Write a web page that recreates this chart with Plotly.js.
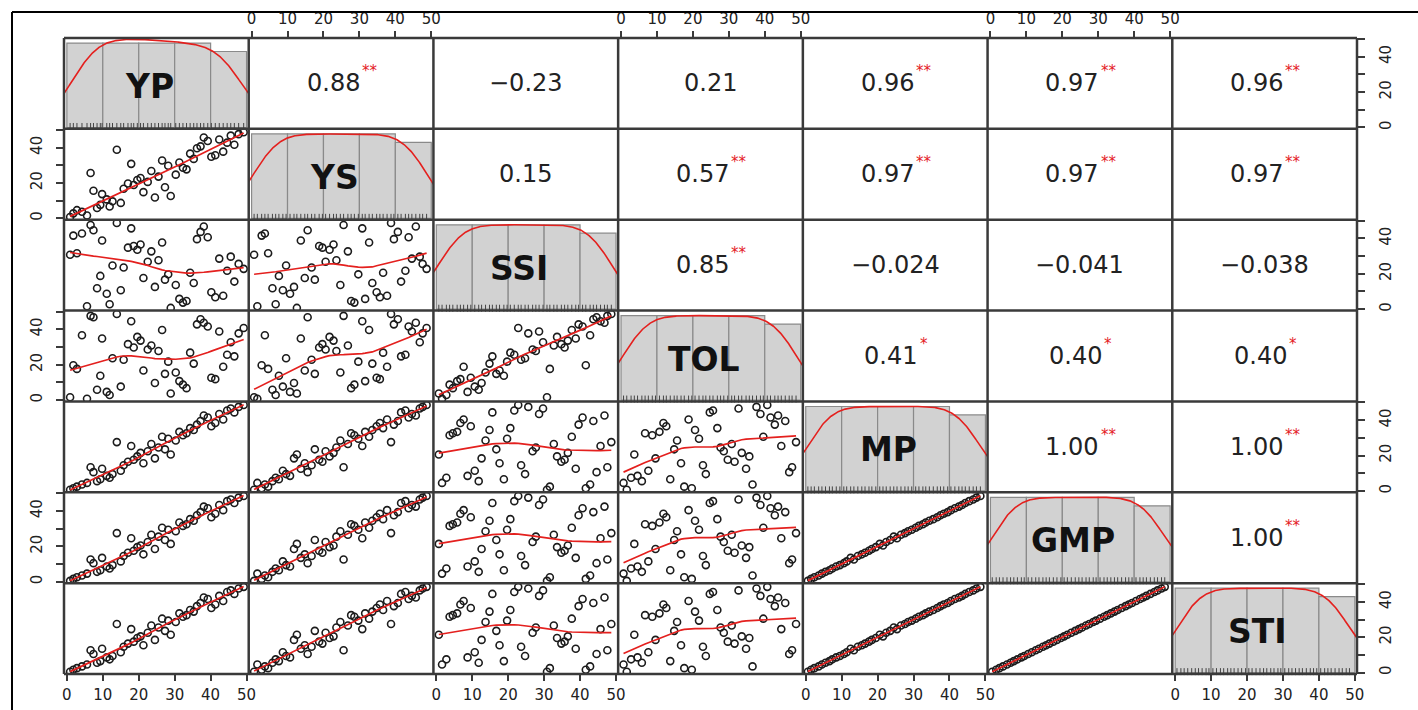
<!DOCTYPE html>
<html>
<head>
<meta charset="utf-8">
<script src="https://cdn.plot.ly/plotly-3.0.1.min.js"></script>
<style>html,body{margin:0;padding:0;background:#fff;}#chart{width:1418px;height:710px;}</style>
</head>
<body>
<div id="chart"></div>
<script>
// ---- data: 49 genotypes (rank-scale values) ----
const varNames = ['YP','YS','SSI','TOL','MP','GMP','STI'];
const YP  = [0.9,1.8,2.8,4.2,5.6,6.6,7.4,8.4,9.3,9.8, 11.1,11.9,12.7,13.9,15.0,15.8,17.0,17.9,18.6,19.6, 20.5,21.3,22.5,23.5,24.5,25.5,26.5,27.3,28.2,28.9, 30.3,31.3,32.3,33.3,34.3,35.3,36.2,37.2,38.1,39.2, 40.2,41.3,42.4,43.5,44.6,45.6,46.6,47.8,49.2];
const YS  = [0.7,2.8,4.6,3.7,1.6,25.6,15.6,5.8,7.6,13.7, 10.7,6.7,9.6,38.8,8.7,16.7,19.7,30.8,18.8,21.7, 22.8,14.8,20.6,26.8,11.8,23.6,32.7,17.6,29.7,12.6, 24.7,31.6,28.6,27.7,36.6,33.6,39.6,40.7,45.7,43.7, 34.8,35.7,44.6,37.7,42.8,46.8,41.6,47.6,48.7];
const SSI = [30.8,41.6,31.6,42.8,1.6,47.6,44.6,11.8,18.8,38.8, 8.7,2.8,24.7,48.7,10.7,23.6,34.8,45.7,35.7,33.6, 36.6,17.6,26.8,32.7,12.6,27.7,37.7,16.7,19.7,0.7, 13.7,5.8,3.7,4.6,20.6,14.8,39.6,43.7,46.8,40.7, 9.6,6.7,28.6,7.6,21.7,29.7,15.6,25.6,22.8];
const TOL = [1.6,19.7,17.6,36.6,0.7,47.6,46.8,5.8,13.7,34.8, 4.6,2.8,23.6,48.7,7.6,22.8,31.6,44.6,29.7,35.7, 33.6,16.7,28.6,30.8,9.6,27.7,39.6,14.8,21.7,3.7, 15.6,10.7,8.7,6.7,26.8,20.6,42.8,45.7,43.7,41.6, 12.6,11.8,38.8,18.8,25.6,32.7,24.7,37.7,40.7];
const MP  = [0.6,1.5,2.4,3.6,4.5,13.4,10.6,5.5,6.6,12.5, 8.5,7.4,9.5,27.6,11.4,14.5,16.5,25.4,17.6,19.5, 21.5,15.6,22.4,26.5,18.4,24.5,30.6,23.5,29.5,20.6, 28.5,33.4,31.5,32.6,35.5,34.4,37.5,39.5,42.6,41.5, 36.6,38.4,43.5,40.4,45.5,46.6,44.4,47.5,48.6];
const GMP = [0.5,1.6,2.5,3.5,4.6,12.6,10.5,5.6,6.5,13.5, 8.6,7.5,9.4,27.5,11.5,14.6,16.4,24.6,17.5,19.6, 20.5,15.5,22.5,26.6,18.5,25.5,30.5,23.6,29.4,21.4, 28.6,33.5,31.6,32.5,35.4,34.5,37.6,39.4,42.5,41.6, 36.5,38.5,43.4,40.5,45.6,46.5,44.5,47.6,48.5];
const STI = [0.5,1.6,2.5,3.5,4.6,12.6,10.5,5.6,6.5,13.5, 8.6,7.5,9.4,27.5,11.5,14.6,16.4,24.6,17.5,19.6, 20.5,15.5,22.5,26.6,18.5,25.5,30.5,23.6,29.4,21.4, 28.6,33.5,31.6,32.5,35.4,34.5,37.6,39.4,42.5,41.6, 36.5,38.5,43.4,40.5,45.6,46.5,44.5,47.6,48.5];
// correlation labels (upper triangle, row by row) and significance stars
const corrRow1 = ['0.88','−0.23','0.21','0.96','0.97','0.96'];
const starRow1 = ['**','','','**','**','**'];
const corrRow2 = ['0.15','0.57','0.97','0.97','0.97'];
const starRow2 = ['','**','**','**','**'];
const corrRow3 = ['0.85','−0.024','−0.041','−0.038'];
const starRow3 = ['**','','',''];
const corrRow4 = ['0.41','0.40','0.40'];
const starRow4 = ['*','*','*'];
const corrRow5 = ['1.00','1.00'];
const starRow5 = ['**','**'];
const corrRow6 = ['1.00'];
const starRow6 = ['**'];
const axisTicks = [0,10,20,30,40,50];
const yTickText = ['0','','20','','40',''];
const xTickText = ['0','10','20','30','40','50'];
const binSize = 10;

const series = [YP,YS,SSI,TOL,MP,GMP,STI];
const corrRows = [corrRow1,corrRow2,corrRow3,corrRow4,corrRow5,corrRow6];
const starRows = [starRow1,starRow2,starRow3,starRow4,starRow5,starRow6];

// ---- statistics helpers ----
function lowess(x, y, f, iter){
  const n = x.length;
  const ord = x.map((v,i)=>i).sort((a,b)=>x[a]-x[b]);
  const xs = ord.map(i=>x[i]), ys = ord.map(i=>y[i]);
  const ns = Math.max(2, Math.min(n, Math.floor(f*n + 1e-7)));
  let rw = new Array(n).fill(1);
  const fit = new Array(n).fill(0);
  for (let it=0; it<=iter; it++){
    for (let i=0;i<n;i++){
      const d = xs.map(v=>Math.abs(v-xs[i]));
      const h = Math.max(d.slice().sort((a,b)=>a-b)[ns-1], 1e-9);
      const w = d.map((di,j)=>{const r=di/h; return r<1 ? Math.pow(1-r*r*r,3)*rw[j] : 0;});
      let sw=0,swx=0,swy=0;
      for (let j=0;j<n;j++){sw+=w[j];swx+=w[j]*xs[j];swy+=w[j]*ys[j];}
      if (sw<=0){fit[i]=ys[i];continue;}
      const mx=swx/sw, my=swy/sw;
      let sxx=0,sxy=0;
      for (let j=0;j<n;j++){sxx+=w[j]*(xs[j]-mx)*(xs[j]-mx);sxy+=w[j]*(xs[j]-mx)*(ys[j]-my);}
      const b = sxx>1e-9 ? sxy/sxx : 0;
      fit[i] = my + b*(xs[i]-mx);
    }
    if (it===iter) break;
    const res = ys.map((v,k)=>v-fit[k]);
    const ar = res.map(Math.abs).sort((a,b)=>a-b);
    const m = n%2 ? ar[(n-1)/2] : (ar[n/2-1]+ar[n/2])/2;
    const s6 = 6*m;
    if (s6<1e-9) break;
    rw = res.map(r=>{const u=Math.abs(r)/s6; return u<1 ? (1-u*u)*(1-u*u) : 0;});
  }
  return {x:xs, y:fit};
}
function quantile(sorted, p){
  const h=(sorted.length-1)*p, lo=Math.floor(h);
  return lo+1<sorted.length ? sorted[lo]+(h-lo)*(sorted[lo+1]-sorted[lo]) : sorted[lo];
}
function kdeCounts(v){
  const n=v.length, s=v.slice().sort((a,b)=>a-b);
  const mean=v.reduce((a,b)=>a+b,0)/n;
  const sd=Math.sqrt(v.reduce((a,b)=>a+(b-mean)*(b-mean),0)/(n-1));
  const iqr=quantile(s,0.75)-quantile(s,0.25);
  const bw=0.9*Math.min(sd, iqr/1.34)*Math.pow(n,-0.2);
  const lo=s[0]-3*bw, hi=s[n-1]+3*bw, xs=[], ys=[];
  for (let k=0;k<512;k++){
    const g=lo+(hi-lo)*k/511; let d=0;
    for (const val of v){const u=(g-val)/bw; d+=Math.exp(-0.5*u*u);}
    d/= n*bw*Math.sqrt(2*Math.PI);
    xs.push(g); ys.push(d*n*binSize);
  }
  return {x:xs,y:ys};
}
const measureCtx = document.createElement('canvas').getContext('2d');
function textWidth(t, size){ measureCtx.font = size+'px "DejaVu Sans"'; return measureCtx.measureText(t).width; }

// ---- layout geometry ----
const W=1418, H=710, ML=64, MR=61, MT=38, MB=36;
const PW=W-ML-MR, PH=H-MT-MB;
const px2x = p => (p-ML)/PW;
const py2y = p => 1-(p-MT)/PH;
const N=7;
const valRange=[-0.8,50.6], histRange=[-0.16,10.6];
const lineCol='#3a3a3a', red='rgb(228,32,30)';
const tickFont={family:'DejaVu Sans', size:15, color:'#222'};
const numSize=24, starSize=15;

const layout = {
  width:W, height:H, margin:{l:ML,r:MR,t:MT,b:MB,pad:0},
  paper_bgcolor:'#ffffff', plot_bgcolor:'rgba(0,0,0,0)',
  showlegend:false, bargap:0, hovermode:false,
  font:{family:'DejaVu Sans', size:15, color:'#222'},
  shapes:[], annotations:[]
};
const traces=[];
const sfx = n => n===1 ? '' : String(n);

for (let i=0;i<N;i++){
  for (let j=0;j<N;j++){
    const n=i*N+j+1, s=sfx(n);
    const xd=[j/N,(j+1)/N], yd=[1-(i+1)/N,1-i/N];
    const diag = i===j;
    const xa = {domain:xd, range:valRange, anchor:'y'+s, showgrid:false, zeroline:false, showline:false,
      ticks:'', showticklabels:false, fixedrange:true};
    if (i===N-1 && j%2===0) Object.assign(xa,{side:'bottom', ticks:'outside', ticklen:6, tickwidth:2, tickcolor:lineCol,
      showticklabels:true, tickmode:'array', tickvals:axisTicks, ticktext:xTickText, tickfont:tickFont, ticklabelstandoff:1});
    if (i===0 && j%2===1) Object.assign(xa,{side:'top', ticks:'outside', ticklen:6, tickwidth:2, tickcolor:lineCol,
      showticklabels:true, tickmode:'array', tickvals:axisTicks, ticktext:xTickText, tickfont:tickFont, ticklabelstandoff:1});
    const ya = {domain:yd, range: diag?histRange:valRange, anchor:'x'+s, showgrid:false, zeroline:false, showline:false,
      ticks:'', showticklabels:false, fixedrange:true};
    const yTickStyle = {ticks:'outside', ticklen:7, tickwidth:2, tickcolor:lineCol, showticklabels:true,
      tickmode:'array', tickvals:axisTicks, ticktext:yTickText, tickangle:-90, tickfont:tickFont, ticklabelstandoff:8};
    if (j===0 && i%2===1) Object.assign(ya, {side:'left'}, yTickStyle);
    if (j===N-1 && i%2===0 && !diag) Object.assign(ya, {side:'right'}, yTickStyle);
    layout['xaxis'+s]=xa; layout['yaxis'+s]=ya;

    if (i>j){
      const xv=series[j], yv=series[i];
      traces.push({type:'scatter', mode:'markers', x:xv, y:yv, xaxis:'x'+s, yaxis:'y'+s,
        marker:{symbol:'circle-open', size:7, color:'#1c1c1c', line:{width:1.6, color:'#1c1c1c'}}, hoverinfo:'skip', cliponaxis:true});
      const lw=lowess(xv,yv,2/3,3);
      traces.push({type:'scatter', mode:'lines', x:lw.x, y:lw.y, xaxis:'x'+s, yaxis:'y'+s,
        line:{color:red, width:1.7}, hoverinfo:'skip'});
    } else if (diag){
      const v=series[i];
      traces.push({type:'histogram', x:v, xaxis:'x'+s, yaxis:'y'+s, autobinx:false,
        xbins:{start:0,end:50,size:binSize}, marker:{color:'#d2d2d2', line:{color:'#8a8a8a', width:1.2}}, hoverinfo:'skip'});
      const k=kdeCounts(v);
      traces.push({type:'scatter', mode:'lines', x:k.x, y:k.y, xaxis:'x'+s, yaxis:'y'+s,
        line:{color:red, width:1.6}, hoverinfo:'skip'});
      traces.push({type:'scatter', mode:'markers', x:v, y:v.map(()=>0.12), xaxis:'x'+s, yaxis:'y'+s,
        marker:{symbol:'line-ns-open', size:5, color:'#444', line:{width:1, color:'#444'}}, hoverinfo:'skip', cliponaxis:false});
      layout.annotations.push({xref:'x'+s+' domain', yref:'y'+s+' domain', x:0.5, y:0.5, xanchor:'center', yanchor:'middle',
        text:'<b>'+varNames[i]+'</b>', showarrow:false, xshift:-7, yshift:-3,
        font:{family:'DejaVu Sans', size:33, color:'#111'}});
    } else {
      // empty subplot holder so the cell's axes exist
      traces.push({type:'scatter', mode:'markers', x:[null], y:[null], xaxis:'x'+s, yaxis:'y'+s, hoverinfo:'skip', marker:{opacity:0}});
      const c=corrRows[i][j-i-1], st=starRows[i][j-i-1];
      const wNum = textWidth(c, numSize), wStar = st ? textWidth(st, starSize)+1 : 0;
      layout.annotations.push({xref:'x'+s+' domain', yref:'y'+s+' domain', x:0.5, y:0.5, xanchor:'center', yanchor:'middle',
        showarrow:false, borderpad:0, xshift:-wStar/2, text:c, font:{family:'DejaVu Sans', size:numSize, color:'#222'}});
      if (st){
        layout.annotations.push({xref:'x'+s+' domain', yref:'y'+s+' domain', x:0.5, y:0.5, xanchor:'left', yanchor:'middle',
          showarrow:false, borderpad:0, xshift:wNum/2 - wStar/2 + 1, yshift:12, text:st,
          font:{family:'DejaVu Sans', size:starSize, color:red}});
      }
    }
  }
}
// right-side value ticks for the last diagonal panel (overlay axis)
const last=N*N, extra=N*N+1;
layout['yaxis'+extra]={overlaying:'y'+last, anchor:'x'+last, side:'right', range:valRange, showgrid:false, zeroline:false,
  showline:false, fixedrange:true, ticks:'outside', ticklen:7, tickwidth:2, tickcolor:lineCol, showticklabels:true,
  tickmode:'array', tickvals:axisTicks, ticktext:yTickText, tickangle:-90, tickfont:tickFont, ticklabelstandoff:8};
traces.push({type:'scatter', mode:'markers', x:[null], y:[null], xaxis:'x'+last, yaxis:'y'+extra, hoverinfo:'skip', marker:{opacity:0}});

// panel grid lines
for (let k=0;k<=N;k++){
  layout.shapes.push({type:'line', xref:'paper', yref:'paper', x0:k/N, x1:k/N, y0:0, y1:1, line:{color:lineCol, width:2.5}});
  layout.shapes.push({type:'line', xref:'paper', yref:'paper', x0:0, x1:1, y0:k/N, y1:k/N, line:{color:lineCol, width:2.5}});
}
// outer figure frame (left and top edges)
layout.shapes.push({type:'line', xref:'paper', yref:'paper', x0:px2x(12), x1:px2x(12), y0:py2y(12), y1:py2y(712), line:{color:'#000', width:2}});
layout.shapes.push({type:'line', xref:'paper', yref:'paper', x0:px2x(12), x1:px2x(1420), y0:py2y(12), y1:py2y(12), line:{color:'#000', width:2}});

Plotly.newPlot('chart', traces, layout, {staticPlot:true, displayModeBar:false});
</script>
</body>
</html>
